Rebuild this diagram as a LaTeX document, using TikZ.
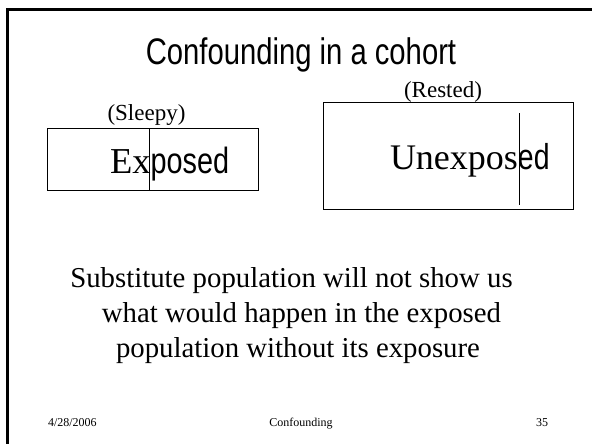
\documentclass[tikz,border=0pt]{standalone}
\usepackage{fontspec}
\setmainfont{Liberation Serif}
\newfontfamily\narrowsans[FakeStretch=0.79]{Liberation Sans}
\begin{document}
\begin{tikzpicture}[x=1pt,y=-1pt,
  txt/.style={inner sep=0pt,outer sep=0pt,text=black},
  groupbox/.style={draw=black,line width=0.9pt,inner sep=0pt,anchor=north west},
  cursor/.style={draw=black,line width=0.9pt},
  frame/.style={draw=black,line width=3pt}]
  \useasboundingbox (0,0) rectangle (592,444);
  \fill[white] (0,0) rectangle (592,444);

  % slide frame (top and left edges)
  \draw[frame] (592,9.8) -- (7,9.8) -- (7,444);

  % title
  \node[txt,anchor=base] (title) at (301,64.3)
    {\narrowsans\fontsize{37}{42}\selectfont Confounding in a cohort};

  % exposed group
  \node[groupbox,minimum width=211pt,minimum height=62pt] (expbox) at (47,128) {};
  \node[txt,anchor=base] (sleepy) at (146.5,121)
    {\fontsize{23}{26}\selectfont (Sleepy)};
  \node[txt,anchor=base west] (exposed) at (110,173.5)
    {\fontsize{36.5}{40}\selectfont Ex{\narrowsans posed}};
  \draw[cursor] (expbox.north west -| 149,0) -- (expbox.south west -| 149,0);

  % unexposed group
  \node[groupbox,minimum width=250pt,minimum height=107pt] (unexpbox) at (323,102) {};
  \node[txt,anchor=base] (rested) at (443,98)
    {\fontsize{23}{26}\selectfont (Rested)};
  \node[txt,anchor=base west] (unexposed) at (390,169.3)
    {\fontsize{36}{40}\selectfont Unexpos{\narrowsans ed}};
  \coordinate (ucurtop) at (519,113);
  \coordinate (ucurbot) at (519,205);
  \draw[cursor] (ucurtop) -- (ucurbot);

  % statement
  \node[txt,anchor=base] (line1) at (291.5,287)
    {\fontsize{28.8}{34}\selectfont Substitute population will not show us};
  \node[txt,anchor=base] (line2) at (301.5,322)
    {\fontsize{28.8}{34}\selectfont what would happen in the exposed};
  \node[txt,anchor=base] (line3) at (298,357)
    {\fontsize{28.8}{34}\selectfont population without its exposure};

  % footer
  \node[txt,anchor=base west] (date) at (48,426)
    {\fontsize{12}{14}\selectfont 4/28/2006};
  \node[txt,anchor=base] (topic) at (301,426)
    {\fontsize{12}{14}\selectfont Confounding};
  \node[txt,anchor=base east] (page) at (548,426)
    {\fontsize{12}{14}\selectfont 35};
\end{tikzpicture}
\end{document}
